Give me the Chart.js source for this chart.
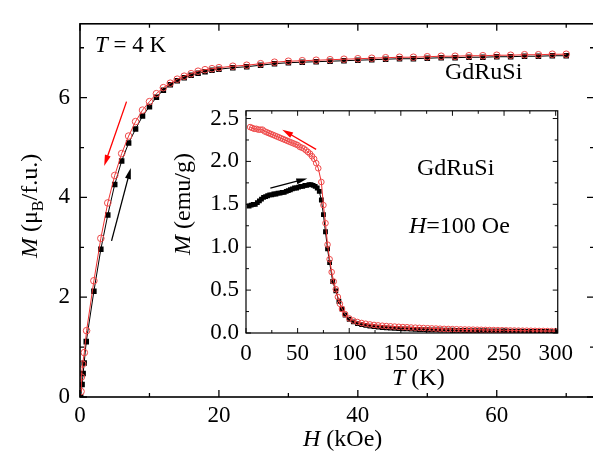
<!DOCTYPE html>
<html>
<head>
<meta charset="utf-8">
<script src="https://cdn.jsdelivr.net/npm/chart.js@4.4.1/dist/chart.umd.min.js"></script>
<style>
  html, body { margin: 0; padding: 0; background: #fff; overflow: hidden; }
  #wrap { position: relative; width: 593px; height: 464px; overflow: hidden; }
  #main { position: absolute; left: 0; top: 0; }
  #inset { position: absolute; left: 170px; top: 90px; }
</style>
</head>
<body>
<div id="wrap">
  <canvas id="main" width="600" height="464"></canvas>
  <canvas id="inset" width="410" height="305"></canvas>
</div>
<script>
// M(H) at T = 4 K, field increasing (black squares)
var hUp = [0.1, 0.3, 0.45, 0.6, 0.9, 2, 3, 4, 5, 6, 7, 8, 9, 10, 11, 12, 13, 14, 15, 16, 17, 18, 19, 20,
  22, 24, 26, 28, 30, 32, 34, 36, 38, 40, 42, 44, 46, 48, 50, 52, 54, 56, 58, 60, 62, 64, 66, 68, 70];
var mUp = [0.0, 0.25, 0.47, 0.68, 1.11, 2.12, 2.96, 3.65, 4.26, 4.73, 5.09, 5.37, 5.63, 5.82, 6.01, 6.15, 6.26, 6.34, 6.40, 6.45, 6.49, 6.52, 6.55, 6.57,
  6.60, 6.62, 6.65, 6.68, 6.70, 6.71, 6.72, 6.73, 6.74, 6.75, 6.76, 6.77, 6.78, 6.78, 6.79, 6.80, 6.80, 6.81, 6.81, 6.82, 6.82, 6.83, 6.83, 6.84, 6.84];
// field decreasing (red open circles)
var hDown = [0.15, 0.2, 0.38, 0.62, 0.95, 2, 3, 4, 5, 6, 7, 8, 9, 10, 11, 12, 13, 14, 15, 16, 17, 18, 19, 20,
  22, 24, 26, 28, 30, 32, 34, 36, 38, 40, 42, 44, 46, 48, 50, 52, 54, 56, 58, 60, 62, 64, 66, 68, 70];
var mDown = [0.11, 0.40, 0.66, 0.89, 1.33, 2.33, 3.18, 3.89, 4.44, 4.88, 5.23, 5.52, 5.75, 5.92, 6.08, 6.20, 6.29, 6.37, 6.43, 6.48, 6.53, 6.56, 6.58, 6.60,
  6.63, 6.65, 6.68, 6.71, 6.73, 6.74, 6.75, 6.76, 6.77, 6.78, 6.79, 6.80, 6.81, 6.81, 6.82, 6.83, 6.83, 6.84, 6.84, 6.85, 6.85, 6.86, 6.86, 6.87, 6.87];
var mainXTicks = [0, 20, 40, 60];
var mainYTicks = [0, 2, 4, 6];

// inset: M(T) at H = 100 Oe, ZFC (black) and FC (red)
var tZfc = [3, 5, 7, 9, 11, 13, 15, 17, 19, 21, 23, 25, 27, 29, 31, 33, 35, 37, 39, 41, 43, 45, 47, 49, 51, 53, 55, 57, 59, 61, 63, 65, 67, 69, 71,
  73, 75, 77, 79, 81, 84, 87, 90, 93,
  96, 100, 104, 108, 112, 116, 120, 124, 128, 132, 136, 140, 144, 148, 152, 156, 160, 164, 168, 172, 176, 180, 184, 188, 192, 196,
  200, 204, 208, 212, 216, 220, 224, 228, 232, 236, 240, 244, 248, 252, 256, 260, 264, 268, 272, 276, 280, 284, 288, 292, 296, 300];
var mZfc = [1.48, 1.49, 1.50, 1.50, 1.52, 1.54, 1.56, 1.58, 1.59, 1.60, 1.61, 1.61, 1.62, 1.62, 1.63, 1.63, 1.64, 1.64, 1.65, 1.66, 1.67, 1.68, 1.69, 1.69, 1.70, 1.71, 1.71, 1.72, 1.72, 1.73, 1.73, 1.72, 1.71, 1.69, 1.65,
  1.55, 1.38, 1.18, 0.98, 0.82, 0.60, 0.49, 0.37, 0.28,
  0.21, 0.16, 0.13, 0.11, 0.097, 0.088, 0.080, 0.074, 0.069, 0.064, 0.060, 0.057, 0.054, 0.051, 0.049, 0.047, 0.045, 0.043, 0.041, 0.040, 0.038, 0.037, 0.036, 0.035, 0.034, 0.033,
  0.032, 0.031, 0.030, 0.029, 0.028, 0.028, 0.027, 0.026, 0.026, 0.025, 0.024, 0.024, 0.023, 0.023, 0.022, 0.022, 0.021, 0.021, 0.020, 0.020, 0.019, 0.019, 0.018, 0.018, 0.017, 0.017];
var tFc = [4, 6, 8, 10, 12, 14, 16, 18, 20, 22, 24, 26, 28, 30, 32, 34, 36, 38, 40, 42, 44, 46, 48, 50, 52, 54, 56, 58, 60, 62, 64, 66, 68,
  70, 73, 75, 77, 79, 81, 83, 85, 87, 89, 91, 93, 96,
  100, 104, 108, 112, 116, 120, 124, 128, 132, 136, 140, 144, 148, 152, 156, 160, 164, 168, 172, 176, 180, 184, 188, 192, 196,
  200, 204, 208, 212, 216, 220, 224, 228, 232, 236, 240, 244, 248, 252, 256, 260, 264, 268, 272, 276, 280, 284, 288, 292, 296, 300];
var mFc = [2.40, 2.39, 2.38, 2.38, 2.37, 2.37, 2.37, 2.35, 2.34, 2.33, 2.32, 2.31, 2.30, 2.29, 2.28, 2.27, 2.26, 2.25, 2.24, 2.23, 2.22, 2.21, 2.20, 2.19, 2.17, 2.16, 2.15, 2.13, 2.11, 2.09, 2.06, 2.03, 1.98,
  1.92, 1.76, 1.49, 1.28, 1.03, 0.86, 0.71, 0.60, 0.51, 0.42, 0.34, 0.28, 0.22,
  0.170, 0.145, 0.128, 0.117, 0.108, 0.100, 0.094, 0.089, 0.085, 0.081, 0.078, 0.075, 0.072, 0.069, 0.067, 0.064, 0.062, 0.060, 0.058, 0.056, 0.054, 0.052, 0.050, 0.048, 0.047,
  0.045, 0.044, 0.042, 0.041, 0.040, 0.039, 0.038, 0.037, 0.036, 0.035, 0.034, 0.033, 0.032, 0.031, 0.030, 0.029, 0.028, 0.027, 0.027, 0.026, 0.025, 0.024, 0.024, 0.023, 0.022, 0.021];
var insetXTicks = [0, 50, 100, 150, 200, 250, 300];
var insetYTicks = [0, 0.5, 1.0, 1.5, 2.0, 2.5];

var FAM = '"Liberation Serif"';

function pts(xs, ys) {
  return xs.map(function(x, i) { return {x: x, y: ys[i]}; });
}

function fixTicks(list) {
  return function(s) { s.ticks = list.map(function(v) { return {value: v}; }); };
}

// text with italic / subscript pieces
function rich(ctx, parts, x, y, size) {
  var fontOf = function(p) {
    return (p[1] == 'i' ? 'italic ' : '') + (p[1] == 's' ? Math.round(size * 0.68) : size) + 'px ' + FAM;
  };
  ctx.fillStyle = '#000';
  ctx.textAlign = 'left';
  ctx.textBaseline = 'alphabetic';
  var cx = x;
  parts.forEach(function(p) {
    ctx.font = fontOf(p);
    ctx.fillText(p[0], cx, y + (p[1] == 's' ? size * 0.24 : 0));
    cx += ctx.measureText(p[0]).width;
  });
}

function arrow(ctx, x1, y1, x2, y2, color) {
  var a = Math.atan2(y2 - y1, x2 - x1);
  var hl = 11, hw = 3;
  ctx.strokeStyle = color;
  ctx.fillStyle = color;
  ctx.lineWidth = 1.3;
  ctx.beginPath();
  ctx.moveTo(x1, y1);
  ctx.lineTo(x2 - Math.cos(a) * hl * 0.7, y2 - Math.sin(a) * hl * 0.7);
  ctx.stroke();
  ctx.beginPath();
  ctx.moveTo(x2, y2);
  ctx.lineTo(x2 - Math.cos(a) * hl - Math.sin(a) * hw, y2 - Math.sin(a) * hl + Math.cos(a) * hw);
  ctx.lineTo(x2 - Math.cos(a) * hl + Math.sin(a) * hw, y2 - Math.sin(a) * hl - Math.cos(a) * hw);
  ctx.closePath();
  ctx.fill();
}

var framePlugin = {
  id: 'frame',
  afterDraw: function(chart, args, o) {
    var ctx = chart.ctx, a = chart.chartArea, xs = chart.scales.x, ys = chart.scales.y;
    ctx.save();
    ctx.strokeStyle = '#000';
    ctx.lineWidth = o.lw;
    ctx.strokeRect(a.left, a.top, a.right - a.left, a.bottom - a.top);
    ctx.lineWidth = o.lw * 0.8;
    ctx.beginPath();
    var v, p, len, major;
    for (v = xs.min; v <= xs.max + 1e-9; v += o.xMinor) {
      major = Math.abs(v / o.xMajor - Math.round(v / o.xMajor)) < 1e-6;
      len = major ? o.big : o.small;
      p = xs.getPixelForValue(v);
      ctx.moveTo(p, a.bottom); ctx.lineTo(p, a.bottom - len);
      ctx.moveTo(p, a.top); ctx.lineTo(p, a.top + len);
    }
    for (v = ys.min; v <= ys.max + 1e-9; v += o.yMinor) {
      major = Math.abs(v / o.yMajor - Math.round(v / o.yMajor)) < 1e-6;
      len = major ? o.big : o.small;
      p = ys.getPixelForValue(v);
      ctx.moveTo(a.left, p); ctx.lineTo(a.left + len, p);
      ctx.moveTo(a.right, p); ctx.lineTo(a.right - len, p);
    }
    ctx.stroke();

    o.arrows.forEach(function(ar) {
      arrow(ctx, xs.getPixelForValue(ar[0]), ys.getPixelForValue(ar[1]),
        xs.getPixelForValue(ar[2]), ys.getPixelForValue(ar[3]), ar[4]);
    });

    o.texts.forEach(function(t) {
      ctx.save();
      ctx.translate(t.x, t.y);
      if (t.rot) ctx.rotate(-Math.PI / 2);
      rich(ctx, t.parts, 0, 0, t.size);
      ctx.restore();
    });
    ctx.restore();
  }
};

function tickFont() {
  return {family: FAM, size: 23};
}

// main chart
new Chart(document.getElementById('main'), {
  type: 'scatter',
  data: {
    datasets: [
      {
        data: pts(hDown, mDown),
        showLine: true,
        borderColor: '#ee3030',
        borderWidth: 1,
        pointStyle: 'circle',
        pointRadius: 3.3,
        pointBorderColor: '#ee4a4a',
        pointBackgroundColor: 'rgba(255,255,255,0)',
        pointBorderWidth: 1
      },
      {
        data: pts(hUp, mUp),
        showLine: true,
        borderColor: '#000',
        borderWidth: 1,
        pointStyle: 'rect',
        pointRadius: 3.9,
        pointBorderWidth: 0,
        pointBackgroundColor: '#000',
        pointBorderColor: '#000'
      }
    ]
  },
  options: {
    responsive: false,
    animation: false,
    layout: {padding: {top: 14, right: 6, left: 0, bottom: 0}},
    plugins: {
      legend: {display: false},
      tooltip: {enabled: false},
      frame: {
        lw: 1.6, big: 7, small: 4,
        xMajor: 20, xMinor: 10, yMajor: 2, yMinor: 1,
        arrows: [[6.7, 5.92, 3.48, 4.63, '#ff0000'], [4.54, 3.13, 7.31, 4.59, '#000']],
        texts: [
          {x: 95, y: 52, size: 23, parts: [['T', 'i'], [' = 4 K', '']]},
          {x: 445, y: 79, size: 24, parts: [['GdRuSi', '']]},
          {x: 303, y: 446, size: 24, parts: [['H', 'i'], [' (kOe)', '']]},
          {x: 37, y: 258, size: 24, rot: true, parts: [['M', 'i'], [' (\u03bc', ''], ['B', 's'], ['/f.u.)', '']]}
        ]
      }
    },
    scales: {
      x: {
        type: 'linear', min: 0, max: 74,
        afterFit: function(s) { s.height = 67; },
        afterBuildTicks: fixTicks(mainXTicks),
        grid: {display: false, drawTicks: false},
        border: {display: false},
        ticks: {padding: 5, color: '#000', font: tickFont(), maxRotation: 0, autoSkip: false}
      },
      y: {
        type: 'linear', min: 0, max: 7.48,
        afterFit: function(s) { s.width = 80; },
        afterBuildTicks: fixTicks(mainYTicks),
        grid: {display: false, drawTicks: false},
        border: {display: false},
        ticks: {padding: 10, color: '#000', font: tickFont(), autoSkip: false}
      }
    }
  },
  plugins: [framePlugin]
});

// inset chart
new Chart(document.getElementById('inset'), {
  type: 'scatter',
  data: {
    datasets: [
      {
        data: pts(tFc, mFc),
        showLine: true,
        borderColor: '#ee3030',
        borderWidth: 1,
        pointStyle: 'circle',
        pointRadius: 2.8,
        pointBorderColor: '#ee4a4a',
        pointBackgroundColor: 'rgba(255,255,255,0)',
        pointBorderWidth: 1
      },
      {
        data: pts(tZfc, mZfc),
        showLine: true,
        borderColor: '#000',
        borderWidth: 1,
        pointStyle: 'rect',
        pointRadius: 3.4,
        pointBorderWidth: 0,
        pointBackgroundColor: '#000',
        pointBorderColor: '#000'
      }
    ]
  },
  options: {
    responsive: false,
    animation: false,
    layout: {padding: {top: 11, right: 12, left: 0, bottom: 0}},
    plugins: {
      legend: {display: false},
      tooltip: {enabled: false},
      frame: {
        lw: 1.2, big: 5, small: 3,
        xMajor: 50, xMinor: 25, yMajor: 0.5, yMinor: 0.25,
        arrows: [[67.9, 2.14, 35.1, 2.37, '#ff0000'], [23.6, 1.69, 59.4, 1.80, '#000']],
        texts: [
          {x: 247, y: 85, size: 24, parts: [['GdRuSi', '']]},
          {x: 239, y: 143, size: 24, parts: [['H', 'i'], ['=100 Oe', '']]},
          {x: 222, y: 295, size: 24, parts: [['T', 'i'], [' (K)', '']]},
          {x: 20, y: 165, size: 24, rot: true, parts: [['M', 'i'], [' (emu/g)', '']]}
        ]
      }
    },
    scales: {
      x: {
        type: 'linear', min: 0, max: 302,
        afterFit: function(s) { s.height = 62; },
        afterBuildTicks: fixTicks(insetXTicks),
        grid: {display: false, drawTicks: false},
        border: {display: false},
        ticks: {padding: 7, color: '#000', font: tickFont(), maxRotation: 0, autoSkip: false}
      },
      y: {
        type: 'linear', min: 0, max: 2.59,
        afterFit: function(s) { s.width = 76; },
        afterBuildTicks: fixTicks(insetYTicks),
        grid: {display: false, drawTicks: false},
        border: {display: false},
        ticks: {
          padding: 7, color: '#000', font: tickFont(), autoSkip: false,
          callback: function(v) { return Number(v).toFixed(1); }
        }
      }
    }
  },
  plugins: [framePlugin]
});
</script>
</body>
</html>
